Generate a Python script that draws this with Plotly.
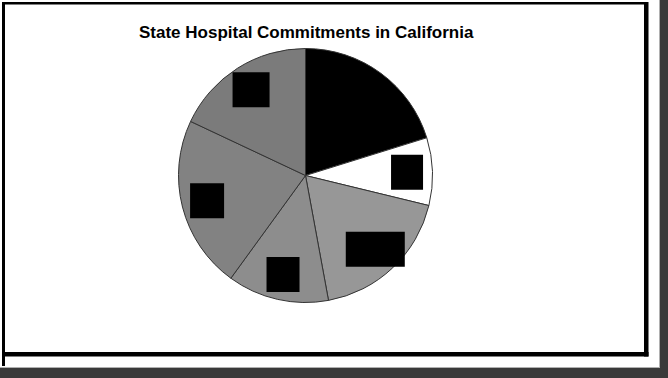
import math
import plotly.graph_objects as go

# Share of state hospital commitments, clockwise from 12 o'clock
categories = ["Group A", "Group B", "Group C", "Group D", "Group E", "Group F"]
shares = [20.2, 8.6, 18.3, 12.9, 22.0, 18.0]

slice_colors = ["#000000", "#ffffff", "#979797", "#8d8d8d", "#828282", "#7b7b7b"]
# width (px) of the solid label block drawn on each slice; 0 = none
label_block_w = [0, 32, 59, 33, 34, 37]
label_block_h = 35

W, H = 668, 378
CX, CY, R = 305.5, 175.5, 127.0   # pie centre / radius in pixels


def px(x):
    return x / W


def py(y):
    return 1 - y / H


fig = go.Figure()
fig.add_trace(go.Pie(
    labels=categories,
    values=shares,
    sort=False,
    direction="clockwise",
    rotation=0,
    marker=dict(colors=slice_colors, line=dict(color="#333333", width=1)),
    textinfo="none",
    hoverinfo="label+percent",
    showlegend=False,
    domain=dict(x=[px(CX - R), px(CX + R)], y=[py(CY + R), py(CY - R)]),
))

shapes = []
# white slide panel on the dark backdrop
shapes.append(dict(type="rect", xref="paper", yref="paper",
                   x0=px(0), x1=px(660), y0=py(368), y1=py(0),
                   fillcolor="#ffffff", line=dict(width=0), layer="below"))
shapes.append(dict(type="line", xref="paper", yref="paper",
                   x0=px(659.5), x1=px(659.5), y0=py(368), y1=py(0),
                   line=dict(color="#b0b0b0", width=1), layer="below"))
shapes.append(dict(type="line", xref="paper", yref="paper",
                   x0=px(0), x1=px(660), y0=py(367.5), y1=py(367.5),
                   line=dict(color="#b0b0b0", width=1), layer="below"))
# black frame
frame = [
    (2, 2, 648, 4.5),      # top
    (2, 2, 5, 366),        # left
    (644, 2, 648.5, 356.5),  # right
    (2, 352, 648.5, 356.5),  # bottom
]
for x0, y0, x1, y1 in frame:
    shapes.append(dict(type="rect", xref="paper", yref="paper",
                       x0=px(x0), x1=px(x1), y0=py(y1), y1=py(y0),
                       fillcolor="#000000", line=dict(width=0)))

# solid label blocks placed at each slice's mid-angle
total = sum(shares)
cum = 0.0
for v, bw in zip(shares, label_block_w):
    mid = (cum + v / 2) / total * 2 * math.pi
    cum += v
    if bw == 0:
        continue
    rr = 0.80 * R
    bx = CX + rr * math.sin(mid)
    by = CY - rr * math.cos(mid)
    shapes.append(dict(type="rect", xref="paper", yref="paper",
                       x0=px(bx - bw / 2), x1=px(bx + bw / 2),
                       y0=py(by + label_block_h / 2), y1=py(by - label_block_h / 2),
                       fillcolor="#000000", line=dict(width=0)))

fig.update_layout(
    width=W, height=H,
    margin=dict(l=0, r=0, t=0, b=0),
    paper_bgcolor="#3a3a3a",
    plot_bgcolor="rgba(0,0,0,0)",
    shapes=shapes,
    annotations=[dict(
        text="<b>State Hospital Commitments in California</b>",
        xref="paper", yref="paper", x=px(306), y=py(32),
        xanchor="center", yanchor="middle", showarrow=False,
        font=dict(family="Liberation Sans, Arial, sans-serif", size=17, color="#000000"),
    )],
)

fig.write_html("out.html")
